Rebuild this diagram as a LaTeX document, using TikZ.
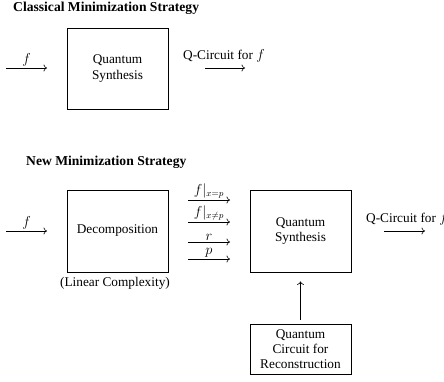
\documentclass[tikz,border=0pt]{standalone}
\usepackage{fontspec}
\setmainfont{Liberation Serif}
\usetikzlibrary{arrows.meta}
\begin{document}
\begin{tikzpicture}[x=1pt,y=-1pt, font=\fontsize{13.3}{15.3}\selectfont, >={To[length=3.5pt,width=7pt]},
  box/.style={draw, line width=0.8pt, align=center, inner sep=0, minimum width=101pt},
  arr/.style={->, line width=0.6pt},
  lbl/.style={above, inner sep=1.5pt},
  ttl/.style={font=\fontsize{13.6}{16}\selectfont\bfseries, anchor=west, inner sep=0}]
\useasboundingbox (0,0) rectangle (444,381);
% Classical
\node[ttl] (t1) at (13,8) {Classical Minimization Strategy};
\node[box, minimum height=81pt] (qs1) at (117.5,68.5) {Quantum\\Synthesis};
\coordinate (f1s) at (6,68); \coordinate (f1e) at (47,68);
\draw[arr] (f1s) -- node[lbl] (f1l) {$f$} (f1e);
\node[anchor=west, inner sep=0] (qc1) at (183,56) {Q-Circuit for $f$};
\coordinate (o1s) at (205,68); \coordinate (o1e) at (245,68);
\draw[arr] (o1s) -- (o1e);
% New
\node[ttl] (t2) at (26,162) {New Minimization Strategy};
\node[box, minimum height=82pt] (dec) at (117.5,231) {Decomposition};
\node[inner sep=0] (lin) at (115,283) {(Linear Complexity)};
\coordinate (f2s) at (6,231); \coordinate (f2e) at (47,231);
\draw[arr] (f2s) -- node[lbl] (f2l) {$f$} (f2e);
\coordinate (a1s) at (188,200); \coordinate (a1e) at (230,200);
\coordinate (a2s) at (188,222); \coordinate (a2e) at (230,222);
\coordinate (a3s) at (188,242); \coordinate (a3e) at (230,242);
\coordinate (a4s) at (188,259); \coordinate (a4e) at (230,259);
\draw[arr] (a1s) -- node[lbl] (l1) {$f|_{x=p}$} (a1e);
\draw[arr] (a2s) -- node[lbl] (l2) {$f|_{x\neq p}$} (a2e);
\draw[arr] (a3s) -- node[lbl] (l3) {$r$} (a3e);
\draw[arr] (a4s) -- node[lbl] (l4) {$p$} (a4e);
\node[box, minimum height=82pt] (qs2) at (300.5,231) {Quantum\\Synthesis};
\node[anchor=west, inner sep=0] (qc2) at (366,219) {Q-Circuit for $f$};
\coordinate (o2s) at (384,231); \coordinate (o2e) at (425,231);
\draw[arr] (o2s) -- (o2e);
\node[box, minimum height=50pt] (rec) at (300.5,349) {Quantum\\Circuit for\\Reconstruction};
\draw[arr] ([yshift=4pt]rec.north) -- ([yshift=-9pt]qs2.south);
\end{tikzpicture}
\end{document}
